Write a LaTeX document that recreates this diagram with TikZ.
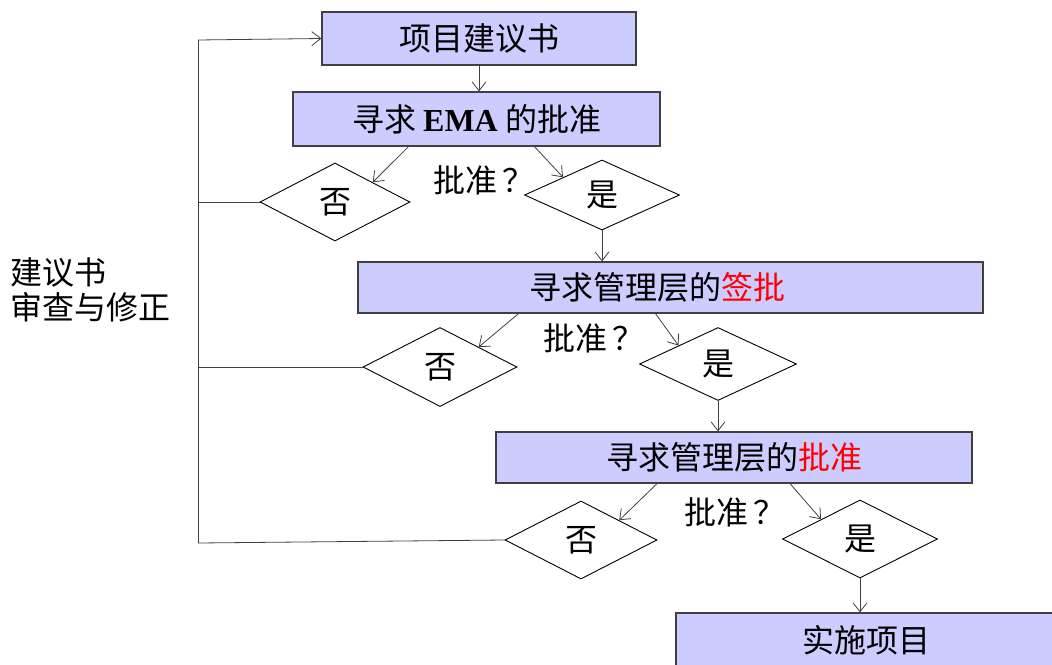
\documentclass[tikz,border=0pt]{standalone}
\usepackage{fontspec}
\setmainfont{Liberation Serif}
\newfontfamily\cjk{Noto Sans CJK SC}
\usetikzlibrary{shapes.geometric,arrows.meta}
\definecolor{boxfill}{HTML}{CCCCFF}
\definecolor{linec}{HTML}{404040}
\begin{document}
\begin{tikzpicture}[x=1pt,y=-1pt,
  every node/.style={font=\cjk\fontsize{32}{38}\selectfont},
  procbox/.style={draw=linec,line width=1.2pt,fill=boxfill,rectangle,inner sep=0pt},
  decide/.style={draw=black,line width=0.9pt,diamond,inner sep=0pt,fill=white},
  conn/.style={draw=linec,line width=0.8pt},
  arr/.style={conn,-{Straight Barb[length=9pt,width=14pt,line width=0.8pt]}}]
\useasboundingbox (0,0) rectangle (1052,664);
\node[procbox,minimum width=314pt,minimum height=53pt] (b1) at (479,38.5) {项目建议书};
\node[procbox,minimum width=367pt,minimum height=54pt] (b2) at (476.5,119) {寻求 {\rmfamily\bfseries EMA} 的批准};
\node[decide,minimum width=150pt,minimum height=78pt] (n1) at (335,202) {否};
\node[decide,minimum width=155pt,minimum height=70pt] (y1) at (602,195) {是};
\node (q1) at (484,180) {批准\,？};
\node[procbox,minimum width=625pt,minimum height=51pt] (b3) at (670.5,287.5) {\hspace*{-26pt}寻求管理层的\textcolor{red}{签批}};
\node[decide,minimum width=154pt,minimum height=79pt] (n2) at (440,367) {否};
\node[decide,minimum width=157pt,minimum height=73pt] (y2) at (718,364) {是};
\node (q2) at (594,338) {批准\,？};
\node[procbox,minimum width=476pt,minimum height=51pt] (b4) at (734,457.5) {寻求管理层的\textcolor{red}{批准}};
\node[decide,minimum width=152pt,minimum height=78pt] (n3) at (581,540) {否};
\node[decide,minimum width=155pt,minimum height=78pt] (y3) at (860,539) {是};
\node (q3) at (735,512) {批准\,？};
\node[procbox,minimum width=380pt,minimum height=54pt] (b5) at (866,640) {实施项目};
\node[align=left,anchor=north west,inner sep=0pt] (side) at (10,257) {建议书\\[-3pt]审查与修正};
% main flow
\draw[arr] (b1.south) -- (b1.south |- b2.north);
\draw[arr] ([xshift=-68pt]b2.south) -- (n1.north east);
\draw[arr] ([xshift=58pt]b2.south) -- (y1.north west);
\draw[arr] (y1.south) -- (y1.south |- b3.north);
\draw[arr] ([xshift=-152pt]b3.south) -- (n2.north east);
\draw[arr] ([xshift=-15pt]b3.south) -- (y2.north west);
\draw[arr] (y2.south) -- (y2.south |- b4.north);
\draw[arr] ([xshift=-77pt]b4.south) -- (n3.north east);
\draw[arr] ([xshift=56pt]b4.south) -- (y3.north west);
\draw[arr] (y3.south) -- (y3.south |- b5.north);
% feedback
\coordinate (ftop) at (198,40);
\coordinate (fbot) at (198,543);
\draw[conn] (ftop) -- (fbot);
\draw[arr] (ftop) -- (b1.west);
\draw[conn] (n1.west) -- (n1.west -| ftop);
\draw[conn] (n2.west) -- (n2.west -| ftop);
\draw[conn] (n3.west) -- (fbot);
\end{tikzpicture}
\end{document}
